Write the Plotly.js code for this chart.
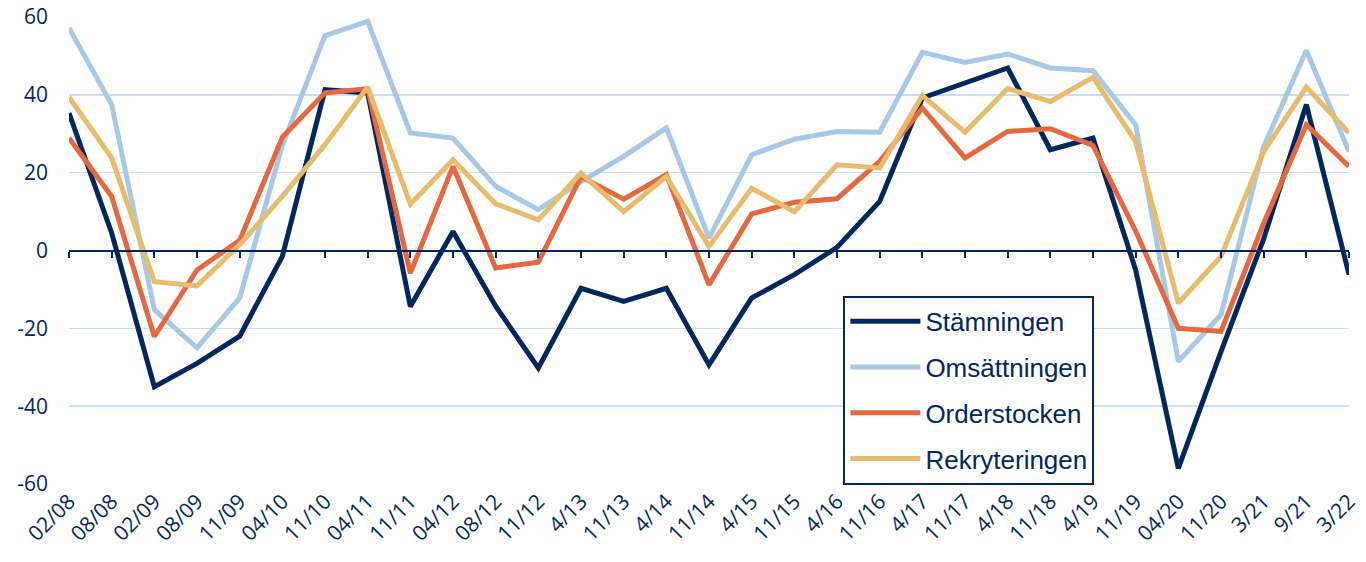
<!DOCTYPE html>
<html>
<head>
<meta charset="utf-8">
<script src="https://cdn.plot.ly/plotly-3.0.1.min.js"></script>
<style>html,body{margin:0;padding:0;background:#fff;}#chart{width:1366px;height:562px;}</style>
</head>
<body>
<div id="chart"></div>
<script>
var categories = ["02/08","08/08","02/09","08/09","11/09","04/10","11/10","04/11","11/11","04/12","08/12","11/12","4/13","11/13","4/14","11/14","4/15","11/15","4/16","11/16","4/17","11/17","4/18","11/18","4/19","11/19","04/20","11/20","3/21","9/21","3/22"];
var stamningen = [35.3,4.5,-35,-29,-22,-1.5,41.3,40.5,-14.4,4.9,-14.3,-30.2,-9.7,-13.1,-9.7,-29.4,-12.2,-6.2,0.8,12.6,39.2,43,46.9,25.9,28.9,-5,-56,-26,3,37.5,-6.2];
var omsattningen = [57.2,37.5,-15.2,-25,-12.2,27,55.2,58.9,30.2,28.9,16.5,10.5,17.7,24.2,31.5,3.2,24.6,28.6,30.6,30.4,50.9,48.3,50.5,46.9,46.2,32.3,-28.5,-16.5,26.7,51.4,25.4];
var orderstocken = [28.9,13.9,-22.1,-5,2.6,29.1,40.5,41.6,-5.8,21.6,-4.5,-3,19,13.2,19.5,-8.8,9.4,12.4,13.3,22.9,36.6,23.8,30.6,31.3,27,5,-20,-20.8,7,32.3,21.6];
var rekryteringen = [39.4,23.8,-8,-9.1,1.5,13.9,27.2,42,11.9,23.3,12,7.9,19.9,10,19,1,16,9.9,22,21.2,39.8,30.4,41.6,38.3,44.5,28,-13.5,-1.5,25.4,42,30.2];
var seriesNames = ["Stämningen","Omsättningen","Orderstocken","Rekryteringen"];
var yTicks = [-60,-40,-20,0,20,40,60];

var navy = "#00285F";
var colors = ["#00285F","#A7C9E7","#E5683F","#E8BB6D"];
var seriesData = [stamningen, omsattningen, orderstocken, rekryteringen];

var traces = seriesData.map(function(vals, i){
  return {
    type: "scatter", mode: "lines", x: categories, y: vals, name: seriesNames[i],
    legendgroup: "g"+i,
    line: {color: colors[i], width: 5, shape: "linear"},
    xaxis: "x", yaxis: "y", hoverinfo: "x+y+name"
  };
});
traces.push({type:"scatter", mode:"lines", x: categories, y: categories.map(function(){return null;}), xaxis:"x2", yaxis:"y", showlegend:false, hoverinfo:"skip"});

var layout = {
  width: 1366, height: 562,
  margin: {l: 69, r: 17, t: 17, b: 78},
  paper_bgcolor: "#fff", plot_bgcolor: "#fff",
  showlegend: true,
  xaxis: {
    type: "category", categoryorder: "array", categoryarray: categories,
    range: [0, 30], anchor: "free", position: 0.5,
    showline: true, linecolor: navy, linewidth: 2,
    ticks: "outside", ticklen: 6, tickwidth: 2, tickcolor: navy,
    showticklabels: false, showgrid: false, zeroline: false, fixedrange: true
  },
  xaxis2: {
    type: "category", categoryorder: "array", categoryarray: categories,
    overlaying: "x", matches: "x", anchor: "y", side: "bottom",
    range: [0, 30],
    showline: false, ticks: "", showgrid: false, zeroline: false,
    showticklabels: true, tickangle: -45,
    tickfont: {family: "Open Sans, Lato, sans-serif", size: 21, color: navy}
  },
  yaxis: {
    range: [-60, 60], tickvals: yTicks, ticktext: yTicks.map(String),
    showgrid: true, gridcolor: "#C9DEF8", gridwidth: 1.5,
    zeroline: false, showline: false, ticks: "",
    ticklabelstandoff: 20,
    tickfont: {family: "Open Sans, Lato, sans-serif", size: 21, color: navy}
  },
  legend: {
    x: 0.605, y: 0.403, xanchor: "left", yanchor: "top",
    bgcolor: "#fff", bordercolor: navy, borderwidth: 2,
    font: {family: "Liberation Sans, Arial, sans-serif", size: 26, color: navy},
    traceorder: "grouped", tracegroupgap: 9, itemwidth: 70
  }
};

Plotly.newPlot("chart", traces, layout, {displayModeBar: false, staticPlot: true});
</script>
</body>
</html>
